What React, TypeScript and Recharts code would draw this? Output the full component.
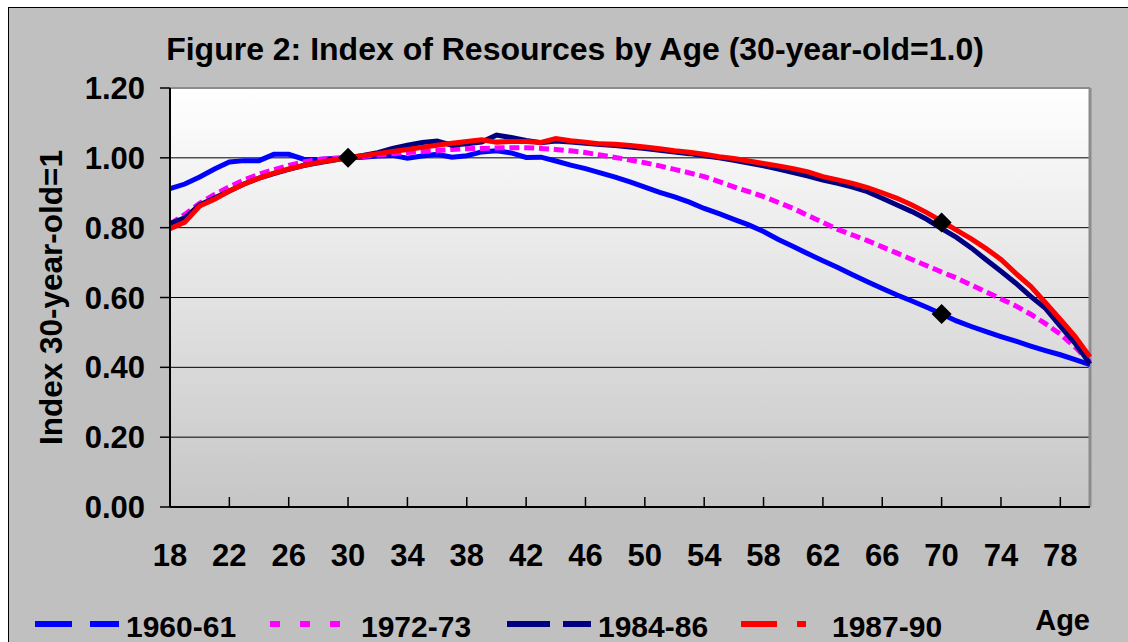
import React from 'react';
import { ComposedChart, Line, Scatter, XAxis, YAxis, CartesianGrid, ReferenceLine } from 'recharts';

const FONT = 'Arial, "Liberation Sans", Helvetica, sans-serif';

// ages on the category axis
const AGES = [
  18, 19, 20, 21, 22, 23, 24, 25, 26, 27, 28, 29, 30, 31, 32, 33, 34, 35, 36, 37, 38,
  39, 40, 41, 42, 43, 44, 45, 46, 47, 48, 49, 50, 51, 52, 53, 54, 55, 56, 57, 58, 59,
  60, 61, 62, 63, 64, 65, 66, 67, 68, 69, 70, 71, 72, 73, 74, 75, 76, 77, 78, 79, 80,
];

const X_TICKS = [18, 22, 26, 30, 34, 38, 42, 46, 50, 54, 58, 62, 66, 70, 74, 78];
const Y_TICKS = [0, 0.2, 0.4, 0.6, 0.8, 1.0, 1.2];

const V_1960 = [
  0.912, 0.925, 0.945, 0.968, 0.988, 0.992, 0.992, 1.010, 1.010, 0.996, 0.995, 0.998, 1.000,
  1.002, 1.005, 1.007, 0.999, 1.005, 1.010, 1.002, 1.006, 1.017, 1.020, 1.014, 1.001, 1.002,
  0.991, 0.979, 0.969, 0.957, 0.945, 0.931, 0.916, 0.901, 0.888, 0.873, 0.855, 0.840, 0.824,
  0.808, 0.789, 0.766, 0.746, 0.725, 0.705, 0.686, 0.665, 0.645, 0.626, 0.607, 0.590, 0.572,
  0.553, 0.533, 0.517, 0.502, 0.488, 0.475, 0.461, 0.448, 0.436, 0.422, 0.408,
];

const V_1972 = [
  0.810, 0.838, 0.870, 0.895, 0.917, 0.937, 0.953, 0.966, 0.978, 0.988, 0.995, 0.999, 1.000,
  1.004, 1.008, 1.012, 1.015, 1.018, 1.021, 1.024, 1.026, 1.027, 1.028, 1.029, 1.029, 1.027,
  1.024, 1.020, 1.015, 1.008, 1.001, 0.994, 0.986, 0.977, 0.967, 0.957, 0.946, 0.932, 0.917,
  0.903, 0.889, 0.872, 0.855, 0.835, 0.815, 0.795, 0.779, 0.763, 0.745, 0.727, 0.709, 0.691,
  0.673, 0.656, 0.636, 0.616, 0.596, 0.576, 0.552, 0.525, 0.495, 0.458, 0.415,
];

const V_1984 = [
  0.812, 0.828, 0.865, 0.885, 0.905, 0.925, 0.942, 0.955, 0.967, 0.978, 0.986, 0.993, 1.000,
  1.007, 1.015, 1.027, 1.036, 1.044, 1.048, 1.036, 1.040, 1.045, 1.065, 1.058, 1.050, 1.043,
  1.048, 1.045, 1.042, 1.038, 1.035, 1.031, 1.027, 1.022, 1.017, 1.012, 1.006, 1.000, 0.993,
  0.985, 0.977, 0.968, 0.958, 0.948, 0.936, 0.927, 0.916, 0.903, 0.884, 0.865, 0.846, 0.824,
  0.797, 0.772, 0.742, 0.708, 0.675, 0.641, 0.603, 0.569, 0.518, 0.469, 0.410,
];

const V_1987 = [
  0.797, 0.816, 0.862, 0.881, 0.905, 0.925, 0.942, 0.956, 0.968, 0.978, 0.987, 0.994, 1.000,
  1.006, 1.012, 1.018, 1.024, 1.030, 1.036, 1.042, 1.047, 1.052, 1.045, 1.047, 1.047, 1.044,
  1.055, 1.049, 1.045, 1.040, 1.039, 1.035, 1.031, 1.026, 1.020, 1.016, 1.010, 1.003, 0.998,
  0.991, 0.984, 0.977, 0.969, 0.960, 0.946, 0.937, 0.927, 0.915, 0.900, 0.884, 0.865, 0.843,
  0.819, 0.793, 0.768, 0.740, 0.709, 0.669, 0.632, 0.585, 0.537, 0.488, 0.430,
];

// black diamonds
const MARKER_AGES = [30, 70, 70];
const MARKER_VALUES = [1.0, 0.815, 0.553];

const SERIES = [
  { key: 's1960', name: '1960-61', values: V_1960, color: '#0000ff', dash: undefined, legendDash: '37 18' },
  { key: 's1972', name: '1972-73', values: V_1972, color: '#ff00ff', dash: '10 4.8', legendDash: '10 20' },
  { key: 's1984', name: '1984-86', values: V_1984, color: '#000080', dash: undefined, legendDash: '43 13' },
  { key: 's1987', name: '1987-90', values: V_1987, color: '#ff0000', dash: undefined, legendDash: '36 20 9 40' },
];

const data = AGES.map((age, i) => {
  const row: Record<string, number> = { age };
  SERIES.forEach((s) => { row[s.key] = s.values[i]; });
  return row;
});

const markers = MARKER_AGES.map((age, i) => ({ age, marker: MARKER_VALUES[i] }));

const Diamond = (props: any) => {
  const { cx, cy } = props;
  const r = 10;
  return <path d={`M${cx},${cy - r}L${cx + r},${cy}L${cx},${cy + r}L${cx - r},${cy}Z`} fill="#000" />;
};

const X_TICK_MARGIN = 59;

const XTick = (props: any) => {
  const { x, y, payload } = props;
  const axisY = y - X_TICK_MARGIN;
  return (
    <g>
      <line x1={x} x2={x} y1={axisY - 10} y2={axisY} stroke="#000" strokeWidth={1.5} />
      <text x={x} y={y} textAnchor="middle" fill="#000" fontSize={31} fontWeight="bold" fontFamily={FONT}>
        {payload.value}
      </text>
    </g>
  );
};

const YLabel = (props: any) => {
  const { viewBox } = props;
  const cx = 62;
  const cy = viewBox.y + viewBox.height / 2;
  return (
    <text x={cx} y={cy} transform={`rotate(-90 ${cx} ${cy})`} textAnchor="middle" fill="#000"
      fontSize={31.5} fontWeight="bold" fontFamily={FONT}>
      Index 30-year-old=1
    </text>
  );
};

const AgeLabel = (props: any) => {
  const { viewBox } = props;
  return (
    <text x={viewBox.x + viewBox.width} y={viewBox.y + 123} textAnchor="end" fill="#000"
      fontSize={29} fontWeight="bold" fontFamily={FONT}>
      Age
    </text>
  );
};

const LEGEND_START = [35, 270, 507, 741];

const App = () => {
  return (
    <div style={{ position: 'absolute', left: 0, top: 0, width: 1128, height: 642, overflow: 'hidden', background: '#fff' }}>
      <div style={{ position: 'absolute', left: 8, top: 7, width: 1200, height: 700, background: '#c0c0c0', borderTop: '1px solid #000', borderLeft: '1px solid #000' }} />
      <div style={{ position: 'absolute', left: 0, top: 0 }}>
        <ComposedChart width={1128} height={642} data={data} margin={{ top: 88, right: 38, bottom: 0, left: 0 }}>
          <defs>
            <linearGradient id="plotBg" x1="0" y1="0" x2="0" y2="1">
              <stop offset="0%" stopColor="#ffffff" />
              <stop offset="100%" stopColor="#c6c6c6" />
            </linearGradient>
          </defs>
          <CartesianGrid vertical={false} stroke="#000" strokeWidth={1} fill="url(#plotBg)" fillOpacity={1} />
          <XAxis
            dataKey="age"
            type="number"
            domain={[18, 80]}
            ticks={X_TICKS}
            interval={0}
            height={135}
            tickSize={0}
            tickMargin={X_TICK_MARGIN}
            tickLine={false}
            axisLine={{ stroke: '#000', strokeWidth: 2 }}
            tick={(p: any) => <XTick {...p} />}
            label={<AgeLabel />}
          />
          <YAxis
            type="number"
            domain={[0, 1.2]}
            ticks={Y_TICKS}
            width={170}
            tickSize={10}
            tickMargin={15}
            tickLine={{ stroke: '#000', strokeWidth: 1.5 }}
            axisLine={{ stroke: '#000', strokeWidth: 2 }}
            tickFormatter={(v: number) => v.toFixed(2)}
            tick={{ fill: '#000', fontSize: 31, fontWeight: 'bold', fontFamily: FONT }}
            label={<YLabel />}
          />
          <ReferenceLine y={1.2} stroke="#8c8c8c" strokeWidth={2} />
          <ReferenceLine x={80} stroke="#8c8c8c" strokeWidth={3} />
          {SERIES.map((s) => (
            <Line
              key={s.key}
              type="linear"
              dataKey={s.key}
              name={s.name}
              stroke={s.color}
              strokeWidth={5}
              strokeDasharray={s.dash}
              dot={false}
              activeDot={false}
              isAnimationActive={false}
            />
          ))}
          <Scatter data={markers} dataKey="marker" shape={Diamond} isAnimationActive={false} />
        </ComposedChart>
      </div>
      <svg width={1128} height={642} style={{ position: 'absolute', left: 0, top: 0, pointerEvents: 'none' }}>
        <text x={575} y={60} textAnchor="middle" fill="#000" fontSize={32} fontWeight="bold" fontFamily={FONT}>
          Figure 2: Index of Resources by Age (30-year-old=1.0)
        </text>
        {SERIES.map((s, i) => (
          <g key={s.key}>
            <line x1={LEGEND_START[i]} x2={LEGEND_START[i] + 84} y1={624} y2={624} stroke={s.color}
              strokeWidth={6} strokeDasharray={s.legendDash} />
            <text x={LEGEND_START[i] + 91} y={637} fill="#000" fontSize={30} fontWeight="bold" fontFamily={FONT}>
              {s.name}
            </text>
          </g>
        ))}
      </svg>
    </div>
  );
};

export default App;
